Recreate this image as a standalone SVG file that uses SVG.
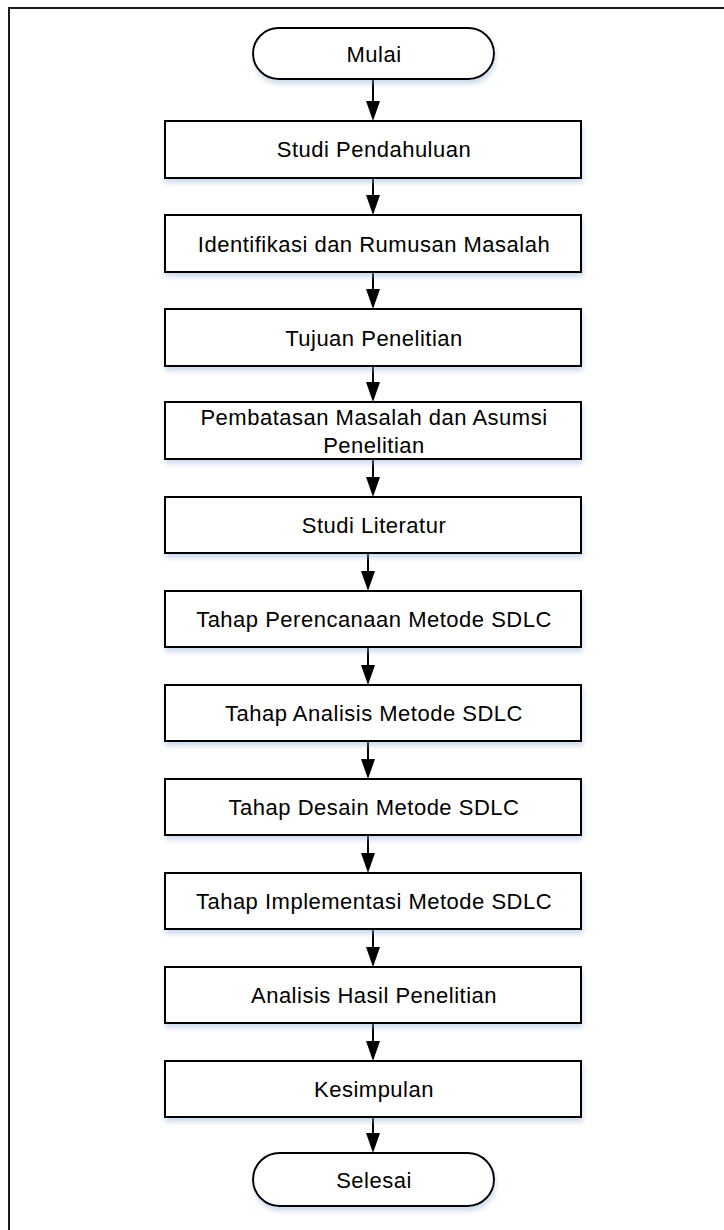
<svg xmlns="http://www.w3.org/2000/svg" width="724" height="1230" viewBox="0 0 724 1230">
<style>
.frame{fill:none;stroke:#1a1a1a;stroke-width:2}
.box{fill:#ffffff;stroke:#000000;stroke-width:2}
.lbl{font-family:"Liberation Sans",Arial,sans-serif;font-size:22px;letter-spacing:0.5px;fill:#000000;text-anchor:middle}
.ln{stroke:#000000;stroke-width:2;fill:none}
.ah{fill:#000000}
</style>
<defs>
<filter id="sh" x="-10%" y="-30%" width="120%" height="170%">
<feDropShadow dx="1" dy="4" stdDeviation="2.5" flood-color="#8fb0d8" flood-opacity="0.45"/>
</filter>
</defs>
<rect class="frame" x="9" y="8" width="740" height="1250"/>
<g id="connectors">
<line class="ln" x1="373" y1="79" x2="373" y2="104"/><polygon class="ah" points="366,101 380,101 373,121"/>
<line class="ln" x1="373" y1="178" x2="373" y2="198"/><polygon class="ah" points="366,195 380,195 373,215"/>
<line class="ln" x1="373" y1="272" x2="373" y2="292"/><polygon class="ah" points="366,289 380,289 373,309"/>
<line class="ln" x1="373" y1="366" x2="373" y2="385"/><polygon class="ah" points="366,382 380,382 373,402"/>
<line class="ln" x1="373" y1="459" x2="373" y2="480"/><polygon class="ah" points="366,477 380,477 373,497"/>
<line class="ln" x1="368" y1="553" x2="368" y2="574"/><polygon class="ah" points="361,571 375,571 368,591"/>
<line class="ln" x1="368" y1="647" x2="368" y2="668"/><polygon class="ah" points="361,665 375,665 368,685"/>
<line class="ln" x1="368" y1="741" x2="368" y2="762"/><polygon class="ah" points="361,759 375,759 368,779"/>
<line class="ln" x1="368" y1="835" x2="368" y2="856"/><polygon class="ah" points="361,853 375,853 368,873"/>
<line class="ln" x1="373" y1="929" x2="373" y2="950"/><polygon class="ah" points="366,947 380,947 373,967"/>
<line class="ln" x1="373" y1="1023" x2="373" y2="1044"/><polygon class="ah" points="366,1041 380,1041 373,1061"/>
<line class="ln" x1="373" y1="1117" x2="373" y2="1136"/><polygon class="ah" points="366,1133 380,1133 373,1153"/>
</g>
<g id="mulai"><rect class="box" filter="url(#sh)" x="253" y="28" width="241" height="51" rx="25.5" ry="25.5"/><text class="lbl" x="374" y="62">Mulai</text></g>
<g id="n1"><rect class="box" filter="url(#sh)" x="165" y="121" width="416" height="57"/><text class="lbl" x="374" y="157">Studi Pendahuluan</text></g>
<g id="n2"><rect class="box" filter="url(#sh)" x="165" y="215" width="416" height="57"/><text class="lbl" x="374" y="252">Identifikasi dan Rumusan Masalah</text></g>
<g id="n3"><rect class="box" filter="url(#sh)" x="165" y="309" width="416" height="57"/><text class="lbl" x="374" y="346">Tujuan Penelitian</text></g>
<g id="n4"><rect class="box" filter="url(#sh)" x="165" y="402" width="416" height="57"/><text class="lbl" x="374" y="425">Pembatasan Masalah dan Asumsi</text><text class="lbl" x="374" y="453">Penelitian</text></g>
<g id="n5"><rect class="box" filter="url(#sh)" x="165" y="497" width="416" height="56"/><text class="lbl" x="374" y="533">Studi Literatur</text></g>
<g id="n6"><rect class="box" filter="url(#sh)" x="165" y="591" width="416" height="56"/><text class="lbl" x="374" y="627">Tahap Perencanaan Metode SDLC</text></g>
<g id="n7"><rect class="box" filter="url(#sh)" x="165" y="685" width="416" height="56"/><text class="lbl" x="374" y="721">Tahap Analisis Metode SDLC</text></g>
<g id="n8"><rect class="box" filter="url(#sh)" x="165" y="779" width="416" height="56"/><text class="lbl" x="374" y="815">Tahap Desain Metode SDLC</text></g>
<g id="n9"><rect class="box" filter="url(#sh)" x="165" y="873" width="416" height="56"/><text class="lbl" x="374" y="909">Tahap Implementasi Metode SDLC</text></g>
<g id="n10"><rect class="box" filter="url(#sh)" x="165" y="967" width="416" height="56"/><text class="lbl" x="374" y="1003">Analisis Hasil Penelitian</text></g>
<g id="n11"><rect class="box" filter="url(#sh)" x="165" y="1061" width="416" height="56"/><text class="lbl" x="374" y="1097">Kesimpulan</text></g>
<g id="selesai"><rect class="box" filter="url(#sh)" x="253" y="1153" width="241" height="53" rx="26.5" ry="26.5"/><text class="lbl" x="374" y="1188">Selesai</text></g>
</svg>
